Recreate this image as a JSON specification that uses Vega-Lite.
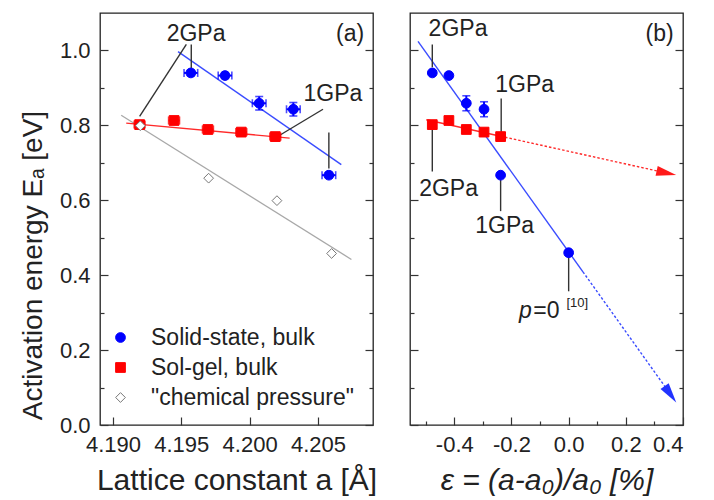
{
  "$schema": "https://vega.github.io/schema/vega-lite/v6.json",
  "padding": {"left": 18, "top": 12, "right": 5, "bottom": 5},
  "bounds": "flush",
  "spacing": 37,
  "config": {
    "font": "Liberation Sans",
    "view": {"stroke": "#222222", "strokeWidth": 1.3},
    "axis": {"domain": false, "grid": false, "labelOverlap": false, "labelFont": "Liberation Sans", "labelFontSize": 22, "labelColor": "#222222", "tickColor": "#333333", "tickWidth": 1.2, "titleFont": "Liberation Sans", "titleFontSize": 30, "titleFontWeight": "normal", "titleColor": "#222222"},
    "legend": {"orient": "none", "legendX": 9, "legendY": 313, "labelFont": "Liberation Sans", "labelFontSize": 23, "labelColor": "#222222", "labelLimit": 0, "symbolSize": 95, "labelOffset": 19, "rowPadding": 6, "padding": 0, "symbolStrokeWidth": 1},
    "text": {"font": "Liberation Sans", "fontSize": 23, "color": "#222222"}
  },
  "resolve": {"legend": {"fill": "independent", "stroke": "independent", "shape": "independent"}},
  "datasets": {
    "pts": [
      {"series": "Solid-state, bulk", "a": 4.1957, "eps": -0.477, "E": 0.940, "aLo": 4.1952, "aHi": 4.1962, "ELo": 0.932, "EHi": 0.948},
      {"series": "Solid-state, bulk", "a": 4.1982, "eps": -0.419, "E": 0.933, "aLo": 4.1977, "aHi": 4.1987, "ELo": 0.925, "EHi": 0.941},
      {"series": "Solid-state, bulk", "a": 4.2007, "eps": -0.358, "E": 0.859, "aLo": 4.2002, "aHi": 4.2012, "ELo": 0.841, "EHi": 0.877, "EbLo": 0.839, "EbHi": 0.879},
      {"series": "Solid-state, bulk", "a": 4.2032, "eps": -0.296, "E": 0.843, "aLo": 4.2027, "aHi": 4.2037, "ELo": 0.825, "EHi": 0.861, "EbLo": 0.823, "EbHi": 0.863},
      {"series": "Solid-state, bulk", "a": 4.2058, "eps": -0.238, "E": 0.667, "aLo": 4.2053, "aHi": 4.2063, "ELo": 0.659, "EHi": 0.675},
      {"series": "Solid-state, bulk", "eps": 0.0, "E": 0.460},
      {"series": "Sol-gel, bulk", "a": 4.19195, "eps": -0.477, "E": 0.802, "aLo": 4.19155, "aHi": 4.19235},
      {"series": "Sol-gel, bulk", "a": 4.19447, "eps": -0.419, "E": 0.813, "aLo": 4.19407, "aHi": 4.19487},
      {"series": "Sol-gel, bulk", "a": 4.19695, "eps": -0.358, "E": 0.789, "aLo": 4.19655, "aHi": 4.19735},
      {"series": "Sol-gel, bulk", "a": 4.19939, "eps": -0.296, "E": 0.782, "aLo": 4.19899, "aHi": 4.19979},
      {"series": "Sol-gel, bulk", "a": 4.20188, "eps": -0.238, "E": 0.770, "aLo": 4.20148, "aHi": 4.20228},
      {"series": "\"chemical pressure\"", "a": 4.1920, "E": 0.799},
      {"series": "\"chemical pressure\"", "a": 4.1970, "E": 0.659},
      {"series": "\"chemical pressure\"", "a": 4.2020, "E": 0.599},
      {"series": "\"chemical pressure\"", "a": 4.2060, "E": 0.458}
    ],
    "segs": [
      {"panel": "a", "kind": "fitGray", "x": 4.1906, "y": 0.827, "x2": 4.20745, "y2": 0.442},
      {"panel": "a", "kind": "fitRed", "x": 4.19097, "y": 0.806, "x2": 4.20293, "y2": 0.766},
      {"panel": "a", "kind": "fitBlue", "x": 4.19476, "y": 0.997, "x2": 4.20671, "y2": 0.695},
      {"panel": "a", "kind": "leader", "x": 4.19573, "y": 1.016, "x2": 4.19573, "y2": 0.952},
      {"panel": "a", "kind": "leader", "x": 4.19537, "y": 1.016, "x2": 4.19195, "y2": 0.824},
      {"panel": "a", "kind": "leader", "x": 4.20537, "y": 0.843, "x2": 4.20208, "y2": 0.771},
      {"panel": "a", "kind": "leader", "x": 4.2058, "y": 0.781, "x2": 4.2058, "y2": 0.685},
      {"panel": "b", "kind": "fitBlue", "x": -0.527, "y": 1.024, "x2": 0.05, "y2": 0.409},
      {"panel": "b", "kind": "extBlue", "x": 0.05, "y": 0.409, "x2": 0.345, "y2": 0.094},
      {"panel": "b", "kind": "fitRed", "x": -0.498, "y": 0.815, "x2": -0.238, "y2": 0.771},
      {"panel": "b", "kind": "extRed", "x": -0.238, "y": 0.771, "x2": 0.335, "y2": 0.674},
      {"panel": "b", "kind": "leader", "x": -0.477, "y": 1.016, "x2": -0.477, "y2": 0.955},
      {"panel": "b", "kind": "leader", "x": -0.236, "y": 0.872, "x2": -0.236, "y2": 0.776},
      {"panel": "b", "kind": "leader", "x": -0.477, "y": 0.792, "x2": -0.477, "y2": 0.677},
      {"panel": "b", "kind": "leader", "x": -0.238, "y": 0.659, "x2": -0.238, "y2": 0.571},
      {"panel": "b", "kind": "leader", "x": 0.0, "y": 0.455, "x2": 0.0, "y2": 0.357}
    ],
    "heads": [
      {"dir": "red", "eps": 0.342, "E": 0.673},
      {"dir": "blue", "eps": 0.356, "E": 0.082}
    ],
    "labels": [
      {"panel": "a", "text": "2GPa", "x": 4.19608, "y": 1.045},
      {"panel": "a", "text": "1GPa", "x": 4.2061, "y": 0.883},
      {"panel": "a", "text": "(a)", "x": 4.20735, "y": 1.045},
      {"panel": "b", "text": "2GPa", "x": -0.387, "y": 1.056},
      {"panel": "b", "text": "1GPa", "x": -0.154, "y": 0.909},
      {"panel": "b", "text": "2GPa", "x": -0.42, "y": 0.629},
      {"panel": "b", "text": "1GPa", "x": -0.224, "y": 0.531},
      {"panel": "b", "text": "(b)", "x": 0.318, "y": 1.045}
    ],
    "pnote": [
      {"text": "p", "x": -0.151, "y": 0.286},
      {"text": "=0", "x": -0.078, "y": 0.286},
      {"text": "[10]", "x": 0.030, "y": 0.315}
    ]
  },
  "hconcat": [
    {
      "width": 273,
      "height": 412,
      "resolve": {"axis": {"y": "independent"}},
      "layer": [
        {
          "data": {"name": "segs"},
          "transform": [{"filter": "datum.panel == 'a' && datum.kind == 'fitGray'"}],
          "mark": {"type": "rule", "color": "#a8a8a8", "strokeWidth": 1.3},
          "encoding": {
            "x": {"field": "x", "type": "quantitative", "scale": {"domain": [4.18905, 4.20903], "nice": false, "zero": false}},
            "y": {"field": "y", "type": "quantitative", "scale": {"domain": [0, 1.1], "nice": false}, "axis": null},
            "x2": {"field": "x2"}, "y2": {"field": "y2"}
          }
        },
        {
          "data": {"name": "segs"},
          "transform": [{"filter": "datum.panel == 'a' && datum.kind == 'fitRed'"}],
          "mark": {"type": "rule", "color": "#ff2a2a", "strokeWidth": 1.4},
          "encoding": {
            "x": {"field": "x", "type": "quantitative", "scale": {"domain": [4.18905, 4.20903], "nice": false, "zero": false}},
            "y": {"field": "y", "type": "quantitative", "scale": {"domain": [0, 1.1], "nice": false}, "axis": null},
            "x2": {"field": "x2"}, "y2": {"field": "y2"}
          }
        },
        {
          "data": {"name": "segs"},
          "transform": [{"filter": "datum.panel == 'a' && datum.kind == 'fitBlue'"}],
          "mark": {"type": "rule", "color": "#3a4cff", "strokeWidth": 1.4},
          "encoding": {
            "x": {"field": "x", "type": "quantitative", "scale": {"domain": [4.18905, 4.20903], "nice": false, "zero": false}},
            "y": {"field": "y", "type": "quantitative", "scale": {"domain": [0, 1.1], "nice": false}, "axis": null},
            "x2": {"field": "x2"}, "y2": {"field": "y2"}
          }
        },
        {
          "data": {"name": "segs"},
          "transform": [{"filter": "datum.panel == 'a' && datum.kind == 'leader'"}],
          "mark": {"type": "rule", "color": "#333333", "strokeWidth": 1.4},
          "encoding": {
            "x": {"field": "x", "type": "quantitative", "scale": {"domain": [4.18905, 4.20903], "nice": false, "zero": false}},
            "y": {"field": "y", "type": "quantitative", "scale": {"domain": [0, 1.1], "nice": false}, "axis": null},
            "x2": {"field": "x2"}, "y2": {"field": "y2"}
          }
        },
        {
          "data": {"name": "pts"},
          "transform": [{"filter": "isValid(datum.aLo)"}],
          "mark": {"type": "rule", "strokeWidth": 2},
          "encoding": {
            "x": {"field": "aLo", "type": "quantitative", "scale": {"domain": [4.18905, 4.20903], "nice": false, "zero": false}},
            "x2": {"field": "aHi"},
            "y": {"field": "E", "type": "quantitative", "scale": {"domain": [0, 1.1], "nice": false}, "axis": null},
            "stroke": {"field": "series", "type": "nominal", "scale": {"domain": ["Solid-state, bulk", "Sol-gel, bulk", "\"chemical pressure\""], "range": ["#0000ff", "#ff0000", "#777777"]}, "legend": {"title": null}}
          }
        },
        {
          "data": {"name": "pts"},
          "transform": [{"filter": "isValid(datum.aLo)"}, {"fold": ["aLo", "aHi"], "as": ["end", "capx"]}],
          "mark": {"type": "tick", "orient": "vertical", "size": 8, "thickness": 1.6},
          "encoding": {
            "x": {"field": "capx", "type": "quantitative", "scale": {"domain": [4.18905, 4.20903], "nice": false, "zero": false}},
            "y": {"field": "E", "type": "quantitative", "scale": {"domain": [0, 1.1], "nice": false}, "axis": null},
            "fill": {"field": "series", "type": "nominal", "scale": {"domain": ["Solid-state, bulk", "Sol-gel, bulk", "\"chemical pressure\""], "range": ["#0000ff", "#ff0000", "#ffffff"]}, "legend": {"title": null}}
          }
        },
        {
          "data": {"name": "pts"},
          "transform": [{"filter": "isValid(datum.ELo)"}],
          "mark": {"type": "rule", "strokeWidth": 2, "color": "#0000ff"},
          "encoding": {
            "x": {"field": "a", "type": "quantitative", "scale": {"domain": [4.18905, 4.20903], "nice": false, "zero": false}},
            "y": {"field": "ELo", "type": "quantitative", "scale": {"domain": [0, 1.1], "nice": false}, "axis": null},
            "y2": {"field": "EHi"}
          }
        },
        {
          "data": {"name": "pts"},
          "transform": [{"filter": "isValid(datum.ELo)"}, {"fold": ["ELo", "EHi"], "as": ["end", "capy"]}],
          "mark": {"type": "tick", "orient": "horizontal", "size": 8, "thickness": 1.6, "color": "#0000ff"},
          "encoding": {
            "x": {"field": "a", "type": "quantitative", "scale": {"domain": [4.18905, 4.20903], "nice": false, "zero": false}},
            "y": {"field": "capy", "type": "quantitative", "scale": {"domain": [0, 1.1], "nice": false}, "axis": null}
          }
        },
        {
          "data": {"name": "pts"},
          "transform": [{"filter": "isValid(datum.a)"}],
          "mark": {"type": "point", "filled": true, "size": 95, "strokeWidth": 1, "opacity": 1},
          "encoding": {
            "x": {"field": "a", "type": "quantitative", "scale": {"domain": [4.18905, 4.20903], "nice": false, "zero": false},
              "axis": {"values": [4.19, 4.1925, 4.195, 4.1975, 4.2, 4.2025, 4.205, 4.2075],
                "labelExpr": "abs(datum.value*200-round(datum.value*200))<0.01 ? format(datum.value,'.3f') : ''",
                "tickSize": {"condition": {"test": "abs(datum.value*200-round(datum.value*200))<0.01", "value": -8}, "value": -4},
                "labelBaseline": "alphabetic", "labelPadding": 34,
                "title": "Lattice constant a [Å]", "titleY": 64, "titleBaseline": "alphabetic"}},
            "y": {"field": "E", "type": "quantitative", "scale": {"domain": [0, 1.1], "nice": false},
              "axis": {"orient": "left", "values": [0, 0.1, 0.2, 0.3, 0.4, 0.5, 0.6, 0.7, 0.8, 0.9, 1.0],
                "labelExpr": "abs(datum.value*5-round(datum.value*5))<0.01 ? format(datum.value,'.1f') : ''",
                "tickSize": {"condition": {"test": "abs(datum.value*5-round(datum.value*5))<0.01", "value": -8}, "value": -4},
                "labelPadding": 18, "labelBaseline": "middle",
                "title": "Activation energy Eₐ [eV]", "titleFontSize": 28, "titleX": -59, "titleY": 252, "titleBaseline": "alphabetic"}},
            "fill": {"field": "series", "type": "nominal", "scale": {"domain": ["Solid-state, bulk", "Sol-gel, bulk", "\"chemical pressure\""], "range": ["#0000ff", "#ff0000", "#ffffff"]}, "legend": {"title": null}},
            "stroke": {"field": "series", "type": "nominal", "scale": {"domain": ["Solid-state, bulk", "Sol-gel, bulk", "\"chemical pressure\""], "range": ["#0000ff", "#ff0000", "#777777"]}, "legend": {"title": null}},
            "shape": {"field": "series", "type": "nominal", "scale": {"domain": ["Solid-state, bulk", "Sol-gel, bulk", "\"chemical pressure\""], "range": ["circle", "square", "diamond"]}, "legend": {"title": null}}
          }
        },
        {
          "data": {"name": "labels"},
          "transform": [{"filter": "datum.panel == 'a'"}],
          "mark": {"type": "text", "align": "center", "baseline": "middle"},
          "encoding": {
            "x": {"field": "x", "type": "quantitative", "scale": {"domain": [4.18905, 4.20903], "nice": false, "zero": false}},
            "y": {"field": "y", "type": "quantitative", "scale": {"domain": [0, 1.1], "nice": false},
              "axis": {"orient": "right", "values": [0, 0.1, 0.2, 0.3, 0.4, 0.5, 0.6, 0.7, 0.8, 0.9, 1.0], "labels": false, "title": null,
                "tickSize": {"condition": {"test": "abs(datum.value*5-round(datum.value*5))<0.01", "value": -8}, "value": -4}}},
            "text": {"field": "text"}
          }
        }
      ]
    },
    {
      "width": 273,
      "height": 412,
      "resolve": {"axis": {"y": "independent"}},
      "layer": [
        {
          "data": {"name": "segs"},
          "transform": [{"filter": "datum.panel == 'b' && datum.kind == 'fitRed'"}],
          "mark": {"type": "rule", "color": "#ff2a2a", "strokeWidth": 1.4},
          "encoding": {
            "x": {"field": "x", "type": "quantitative", "scale": {"domain": [-0.555, 0.4], "nice": false, "zero": false}},
            "y": {"field": "y", "type": "quantitative", "scale": {"domain": [0, 1.1], "nice": false}, "axis": null},
            "x2": {"field": "x2"}, "y2": {"field": "y2"}
          }
        },
        {
          "data": {"name": "segs"},
          "transform": [{"filter": "datum.panel == 'b' && datum.kind == 'extRed'"}],
          "mark": {"type": "rule", "color": "#ff2a2a", "strokeWidth": 1.4, "strokeDash": [2.5, 2]},
          "encoding": {
            "x": {"field": "x", "type": "quantitative", "scale": {"domain": [-0.555, 0.4], "nice": false, "zero": false}},
            "y": {"field": "y", "type": "quantitative", "scale": {"domain": [0, 1.1], "nice": false}, "axis": null},
            "x2": {"field": "x2"}, "y2": {"field": "y2"}
          }
        },
        {
          "data": {"name": "segs"},
          "transform": [{"filter": "datum.panel == 'b' && datum.kind == 'fitBlue'"}],
          "mark": {"type": "rule", "color": "#3a4cff", "strokeWidth": 1.4},
          "encoding": {
            "x": {"field": "x", "type": "quantitative", "scale": {"domain": [-0.555, 0.4], "nice": false, "zero": false}},
            "y": {"field": "y", "type": "quantitative", "scale": {"domain": [0, 1.1], "nice": false}, "axis": null},
            "x2": {"field": "x2"}, "y2": {"field": "y2"}
          }
        },
        {
          "data": {"name": "segs"},
          "transform": [{"filter": "datum.panel == 'b' && datum.kind == 'extBlue'"}],
          "mark": {"type": "rule", "color": "#3a4cff", "strokeWidth": 1.4, "strokeDash": [2.5, 2]},
          "encoding": {
            "x": {"field": "x", "type": "quantitative", "scale": {"domain": [-0.555, 0.4], "nice": false, "zero": false}},
            "y": {"field": "y", "type": "quantitative", "scale": {"domain": [0, 1.1], "nice": false}, "axis": null},
            "x2": {"field": "x2"}, "y2": {"field": "y2"}
          }
        },
        {
          "data": {"name": "segs"},
          "transform": [{"filter": "datum.panel == 'b' && datum.kind == 'leader'"}],
          "mark": {"type": "rule", "color": "#333333", "strokeWidth": 1.4},
          "encoding": {
            "x": {"field": "x", "type": "quantitative", "scale": {"domain": [-0.555, 0.4], "nice": false, "zero": false}},
            "y": {"field": "y", "type": "quantitative", "scale": {"domain": [0, 1.1], "nice": false}, "axis": null},
            "x2": {"field": "x2"}, "y2": {"field": "y2"}
          }
        },
        {
          "data": {"name": "heads"},
          "transform": [{"filter": "datum.dir == 'red'"}],
          "mark": {"type": "point", "filled": true, "shape": "M-1,-0.5L1,0L-1,0.5Z", "size": 400, "angle": 12.5, "color": "#ff1a1a", "opacity": 1},
          "encoding": {
            "x": {"field": "eps", "type": "quantitative", "scale": {"domain": [-0.555, 0.4], "nice": false, "zero": false}},
            "y": {"field": "E", "type": "quantitative", "scale": {"domain": [0, 1.1], "nice": false}, "axis": null}
          }
        },
        {
          "data": {"name": "heads"},
          "transform": [{"filter": "datum.dir == 'blue'"}],
          "mark": {"type": "point", "filled": true, "shape": "M-1,-0.5L1,0L-1,0.5Z", "size": 400, "angle": 54.4, "color": "#2233ff", "opacity": 1},
          "encoding": {
            "x": {"field": "eps", "type": "quantitative", "scale": {"domain": [-0.555, 0.4], "nice": false, "zero": false}},
            "y": {"field": "E", "type": "quantitative", "scale": {"domain": [0, 1.1], "nice": false}, "axis": null}
          }
        },
        {
          "data": {"name": "pts"},
          "transform": [{"filter": "isValid(datum.EbLo)"}],
          "mark": {"type": "rule", "strokeWidth": 2, "color": "#0000ff"},
          "encoding": {
            "x": {"field": "eps", "type": "quantitative", "scale": {"domain": [-0.555, 0.4], "nice": false, "zero": false}},
            "y": {"field": "EbLo", "type": "quantitative", "scale": {"domain": [0, 1.1], "nice": false}, "axis": null},
            "y2": {"field": "EbHi"}
          }
        },
        {
          "data": {"name": "pts"},
          "transform": [{"filter": "isValid(datum.EbLo)"}, {"fold": ["EbLo", "EbHi"], "as": ["end", "capy"]}],
          "mark": {"type": "tick", "orient": "horizontal", "size": 8, "thickness": 1.6, "color": "#0000ff"},
          "encoding": {
            "x": {"field": "eps", "type": "quantitative", "scale": {"domain": [-0.555, 0.4], "nice": false, "zero": false}},
            "y": {"field": "capy", "type": "quantitative", "scale": {"domain": [0, 1.1], "nice": false}, "axis": null}
          }
        },
        {
          "data": {"name": "pts"},
          "transform": [{"filter": "isValid(datum.eps)"}],
          "mark": {"type": "point", "filled": true, "size": 95, "strokeWidth": 1, "opacity": 1},
          "encoding": {
            "x": {"field": "eps", "type": "quantitative", "scale": {"domain": [-0.555, 0.4], "nice": false, "zero": false},
              "axis": {"tickCount": 10,
                "labelExpr": "abs(datum.value*5-round(datum.value*5))<0.01 ? ((datum.value < -0.01 ? '-' : '') + format(abs(datum.value),'.1f')) : ''",
                "tickSize": {"condition": {"test": "abs(datum.value*5-round(datum.value*5))<0.01", "value": -8}, "value": -4},
                "labelBaseline": "alphabetic", "labelPadding": 34,
                "title": "ε = (a-a₀)/a₀ [%]", "titleFontStyle": "italic", "titleY": 64, "titleBaseline": "alphabetic"}},
            "y": {"field": "E", "type": "quantitative", "scale": {"domain": [0, 1.1], "nice": false},
              "axis": {"orient": "left", "values": [0, 0.1, 0.2, 0.3, 0.4, 0.5, 0.6, 0.7, 0.8, 0.9, 1.0], "labels": false, "title": null,
                "tickSize": {"condition": {"test": "abs(datum.value*5-round(datum.value*5))<0.01", "value": -8}, "value": -4}}},
            "fill": {"field": "series", "type": "nominal", "scale": {"domain": ["Solid-state, bulk", "Sol-gel, bulk", "\"chemical pressure\""], "range": ["#0000ff", "#ff0000", "#ffffff"]}, "legend": null},
            "stroke": {"field": "series", "type": "nominal", "scale": {"domain": ["Solid-state, bulk", "Sol-gel, bulk", "\"chemical pressure\""], "range": ["#0000ff", "#ff0000", "#777777"]}, "legend": null},
            "shape": {"field": "series", "type": "nominal", "scale": {"domain": ["Solid-state, bulk", "Sol-gel, bulk", "\"chemical pressure\""], "range": ["circle", "square", "diamond"]}, "legend": null}
          }
        },
        {
          "data": {"name": "labels"},
          "transform": [{"filter": "datum.panel == 'b'"}],
          "mark": {"type": "text", "align": "center", "baseline": "middle"},
          "encoding": {
            "x": {"field": "x", "type": "quantitative", "scale": {"domain": [-0.555, 0.4], "nice": false, "zero": false}},
            "y": {"field": "y", "type": "quantitative", "scale": {"domain": [0, 1.1], "nice": false},
              "axis": {"orient": "right", "values": [0, 0.1, 0.2, 0.3, 0.4, 0.5, 0.6, 0.7, 0.8, 0.9, 1.0], "labels": false, "title": null,
                "tickSize": {"condition": {"test": "abs(datum.value*5-round(datum.value*5))<0.01", "value": -8}, "value": -4}}},
            "text": {"field": "text"}
          }
        },
        {
          "data": {"name": "pnote"},
          "transform": [{"filter": "datum.text == 'p'"}],
          "mark": {"type": "text", "align": "center", "baseline": "alphabetic", "fontStyle": "italic"},
          "encoding": {
            "x": {"field": "x", "type": "quantitative", "scale": {"domain": [-0.555, 0.4], "nice": false, "zero": false}},
            "y": {"field": "y", "type": "quantitative", "scale": {"domain": [0, 1.1], "nice": false}, "axis": null},
            "text": {"field": "text"}
          }
        },
        {
          "data": {"name": "pnote"},
          "transform": [{"filter": "datum.text == '=0'"}],
          "mark": {"type": "text", "align": "center", "baseline": "alphabetic"},
          "encoding": {
            "x": {"field": "x", "type": "quantitative", "scale": {"domain": [-0.555, 0.4], "nice": false, "zero": false}},
            "y": {"field": "y", "type": "quantitative", "scale": {"domain": [0, 1.1], "nice": false}, "axis": null},
            "text": {"field": "text"}
          }
        },
        {
          "data": {"name": "pnote"},
          "transform": [{"filter": "datum.text == '[10]'"}],
          "mark": {"type": "text", "align": "center", "baseline": "alphabetic", "fontSize": 13},
          "encoding": {
            "x": {"field": "x", "type": "quantitative", "scale": {"domain": [-0.555, 0.4], "nice": false, "zero": false}},
            "y": {"field": "y", "type": "quantitative", "scale": {"domain": [0, 1.1], "nice": false}, "axis": null},
            "text": {"field": "text"}
          }
        }
      ]
    }
  ]
}
